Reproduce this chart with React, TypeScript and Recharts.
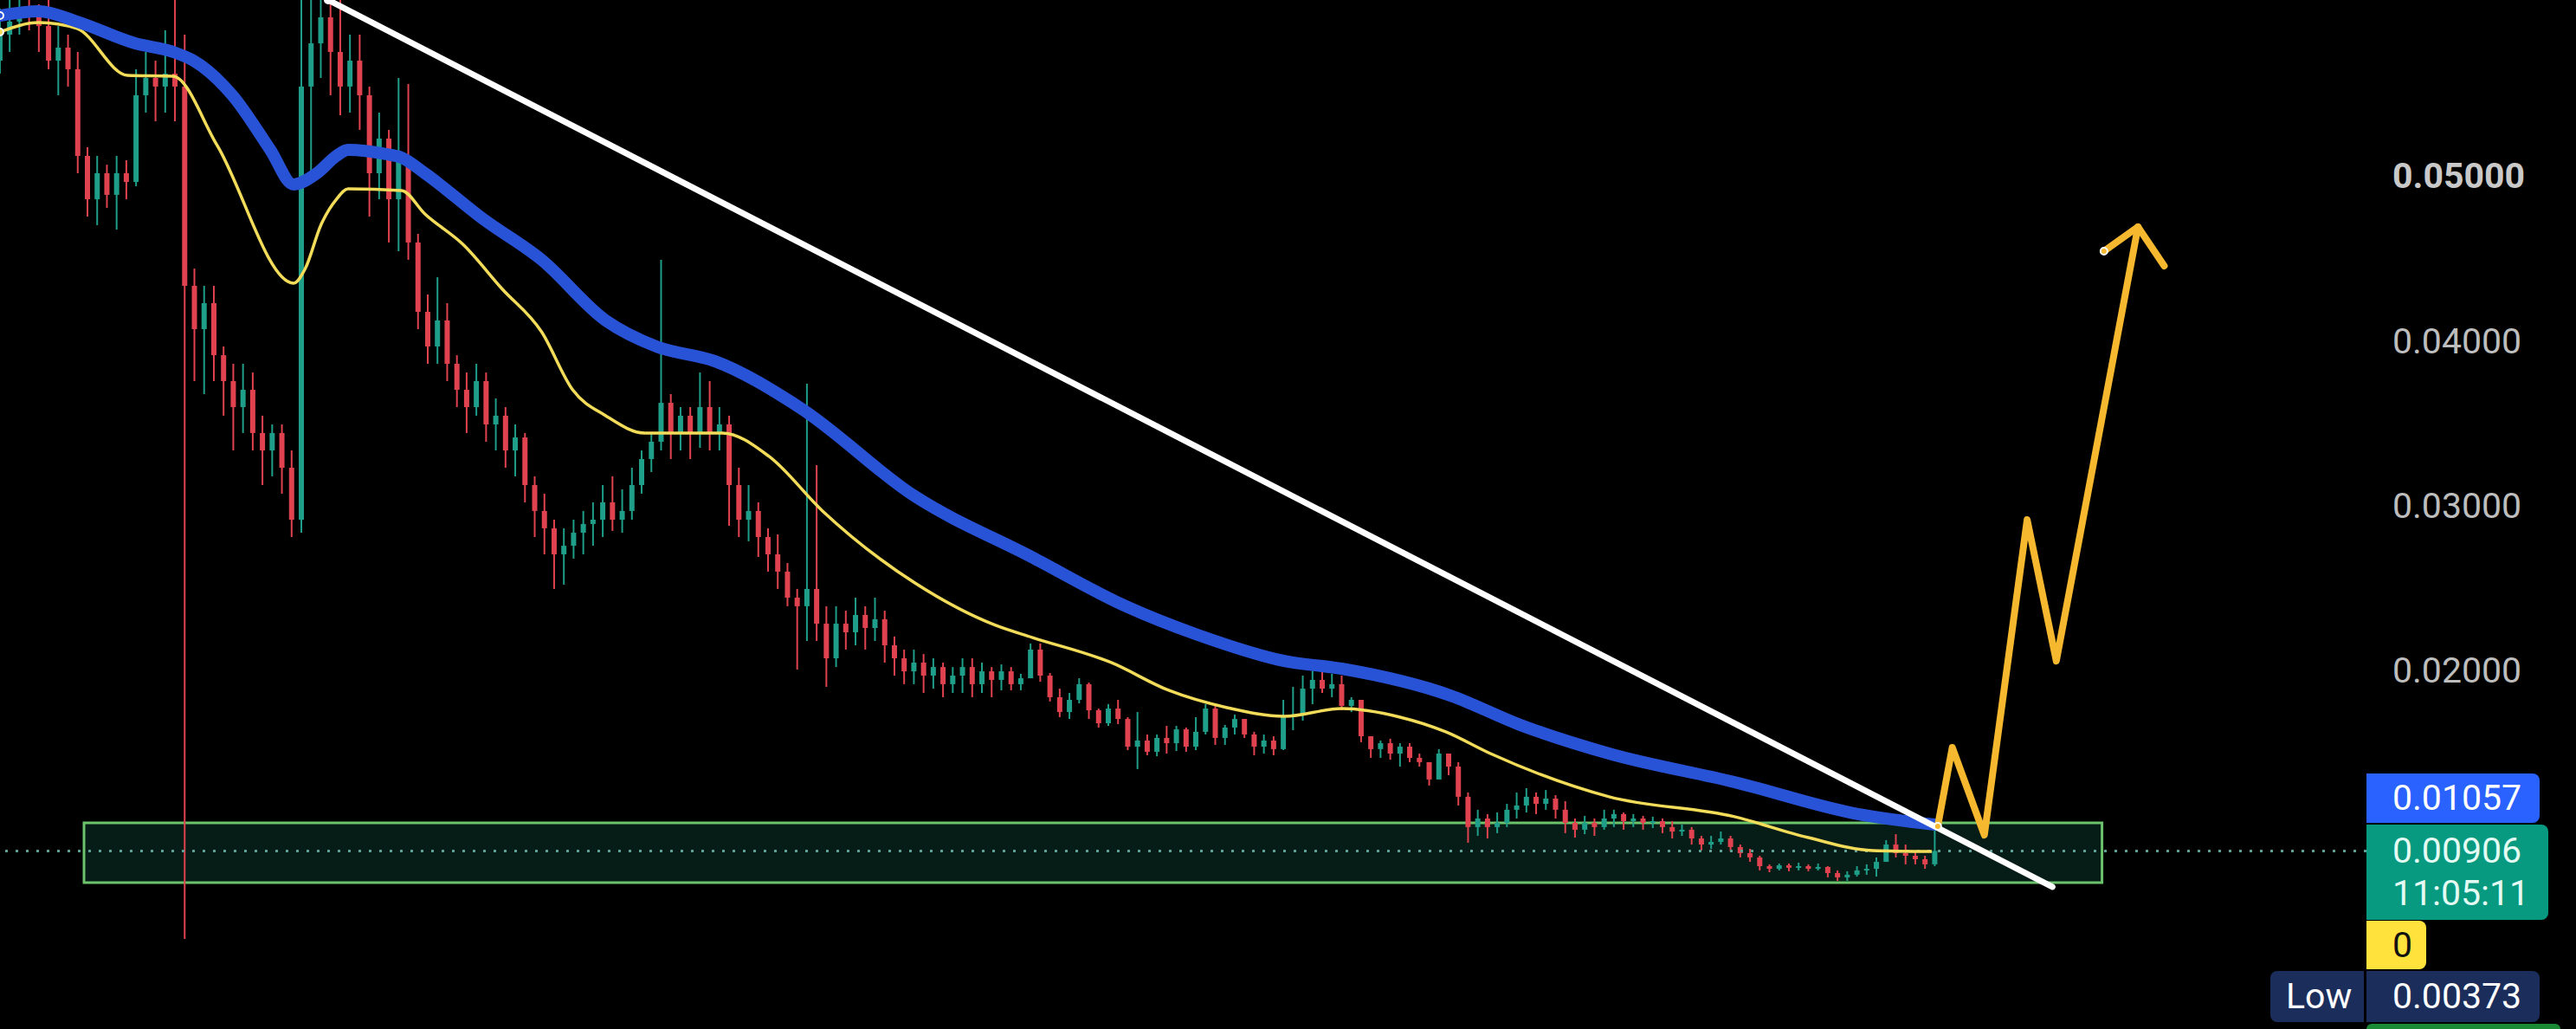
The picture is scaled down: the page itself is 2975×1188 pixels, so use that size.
import React from "react";
import {
  Bar,
  ComposedChart,
  Line,
  ReferenceArea,
  ReferenceLine,
  XAxis,
  YAxis,
} from "recharts";

// Canvas / axis geometry
const CHART_W = 2975;
const CHART_H = 1188;
const AXIS_W = 242;

const UP = "#1f9e89";
const DOWN = "#e0434f";
const FONT = "Roboto, Arial, sans-serif";

// Price scale (linear), and the bar-index range shown
const priceTicks = [0.02, 0.03, 0.04, 0.05];
const priceDomain: [number, number] = [-0.00174, 0.06069];
const indexDomain: [number, number] = [0, 243.4];

// Candles, one per bar index
const candleOpen = [
  0.05701, 0.05859, 0.05938, 0.0599, 0.05964, 0.05911, 0.05701, 0.0578, 0.05649, 0.05123,
  0.0486, 0.05018, 0.04887, 0.05018, 0.04965, 0.05491, 0.05596, 0.05544, 0.05622, 0.05544,
  0.04335, 0.04072, 0.0423, 0.03914, 0.03757, 0.03599, 0.03704, 0.03442, 0.03336, 0.03442,
  0.03231, 0.02916, 0.05544, 0.05806, 0.05964, 0.05754, 0.05544, 0.05701, 0.05491, 0.05018,
  0.05228, 0.0486, 0.05123, 0.04598, 0.04177, 0.03967, 0.04125, 0.03862, 0.03704, 0.03599,
  0.03757, 0.03494, 0.03547, 0.03336, 0.03415, 0.03126, 0.02969, 0.02864, 0.02706, 0.02758,
  0.02837, 0.0289, 0.02916, 0.03021, 0.02916, 0.02969, 0.03126, 0.03284, 0.03389, 0.03625,
  0.03442, 0.03547, 0.03442, 0.03599, 0.03442, 0.03494, 0.03126, 0.02916, 0.02969, 0.02811,
  0.02706, 0.02601, 0.02443, 0.02391, 0.02496, 0.02285, 0.02075, 0.02285, 0.02233, 0.02338,
  0.02259, 0.02312, 0.02154, 0.02075, 0.01996, 0.02049, 0.0197, 0.02022, 0.01918, 0.0197,
  0.02022, 0.01918, 0.01996, 0.01944, 0.01996, 0.01918, 0.01954, 0.02128, 0.0197, 0.01839,
  0.01749, 0.01823, 0.01918, 0.0176, 0.01681, 0.0177, 0.01707, 0.01539, 0.01576, 0.01508,
  0.01592, 0.0156, 0.01644, 0.01539, 0.01629, 0.0177, 0.01592, 0.01655, 0.01707, 0.01613,
  0.01539, 0.01576, 0.01524, 0.01718, 0.01734, 0.01891, 0.01944, 0.01891, 0.01918, 0.01786,
  0.01823, 0.01602, 0.01524, 0.0156, 0.01497, 0.01539, 0.01471, 0.01445, 0.0134, 0.01497,
  0.01418, 0.01235, 0.01051, 0.01103, 0.01051, 0.01077, 0.01156, 0.01182, 0.01235, 0.01192,
  0.01224, 0.01156, 0.01077, 0.01035, 0.01077, 0.01051, 0.01103, 0.0113, 0.01087, 0.01103,
  0.01077, 0.01087, 0.01051, 0.01024, 0.01035, 0.00982, 0.00945, 0.00961, 0.00982, 0.0093,
  0.00893, 0.00867, 0.00814, 0.00798, 0.00819, 0.00804, 0.00814, 0.00798, 0.00809, 0.00772,
  0.00746, 0.00762, 0.00788, 0.00798, 0.0084, 0.00945, 0.00893, 0.00877, 0.00856, 0.00825,
];

const candleHigh = [
  0.06016, 0.06069, 0.06069, 0.06069, 0.06043, 0.06069, 0.05911, 0.05859, 0.05754, 0.05176,
  0.05123, 0.0507, 0.05123, 0.05097, 0.05649, 0.05754, 0.05701, 0.05885, 0.06069, 0.05859,
  0.0444, 0.04335, 0.04335, 0.03967, 0.03862, 0.03862, 0.03809, 0.03547, 0.03494, 0.03494,
  0.03336, 0.06069, 0.06069, 0.06069, 0.06069, 0.06069, 0.05859, 0.05859, 0.05544, 0.05386,
  0.05281, 0.05596, 0.05559, 0.0465, 0.04282, 0.04387, 0.0423, 0.03914, 0.03809, 0.03862,
  0.03809, 0.03652, 0.03599, 0.03494, 0.03442, 0.03179, 0.03074, 0.02916, 0.02864, 0.02916,
  0.02969, 0.03021, 0.03126, 0.03179, 0.031, 0.03231, 0.03336, 0.03442, 0.04493, 0.03678,
  0.03599, 0.03599, 0.03809, 0.03757, 0.03599, 0.03547, 0.03231, 0.03126, 0.03021, 0.02864,
  0.02827, 0.02653, 0.02496, 0.03741, 0.03247, 0.02391, 0.02391, 0.02364, 0.02443, 0.02391,
  0.02443, 0.02364, 0.02207, 0.02128, 0.02128, 0.02101, 0.02075, 0.02049, 0.02022, 0.02075,
  0.02075, 0.02049, 0.02022, 0.02038, 0.02022, 0.01981, 0.02165, 0.02165, 0.01986, 0.01891,
  0.01865, 0.01954, 0.01928, 0.0177, 0.01797, 0.01823, 0.01718, 0.01749, 0.01613, 0.01613,
  0.01665, 0.01665, 0.01655, 0.01718, 0.01797, 0.01797, 0.01671, 0.01734, 0.01707, 0.01629,
  0.01613, 0.01602, 0.01823, 0.01902, 0.0197, 0.02012, 0.02012, 0.01981, 0.0197, 0.01839,
  0.01823, 0.01602, 0.01576, 0.01587, 0.0156, 0.0156, 0.01497, 0.01445, 0.01524, 0.01497,
  0.01445, 0.01261, 0.01156, 0.0113, 0.0114, 0.01192, 0.01261, 0.01287, 0.01261, 0.01276,
  0.01245, 0.01208, 0.01103, 0.01119, 0.01103, 0.01156, 0.01156, 0.0114, 0.0113, 0.01119,
  0.01114, 0.01103, 0.01087, 0.01066, 0.01051, 0.00998, 0.00998, 0.01024, 0.00998, 0.00945,
  0.00919, 0.00877, 0.00825, 0.0083, 0.0083, 0.00835, 0.00825, 0.0083, 0.00814, 0.00788,
  0.00783, 0.00814, 0.00825, 0.00867, 0.00972, 0.01008, 0.00945, 0.00909, 0.00877, 0.01035,
];

const candleLow = [
  0.05622, 0.05754, 0.05859, 0.05885, 0.05754, 0.05649, 0.05491, 0.05544, 0.05018, 0.04755,
  0.04703, 0.04808, 0.04676, 0.0486, 0.04939, 0.05386, 0.05333, 0.05386, 0.05333, 0.00373,
  0.03757, 0.03678, 0.03757, 0.03547, 0.03336, 0.03442, 0.03336, 0.03126, 0.03179, 0.03074,
  0.02811, 0.02837, 0.05018, 0.05596, 0.05491, 0.0537, 0.05386, 0.05281, 0.04755, 0.0486,
  0.04598, 0.04545, 0.04493, 0.04072, 0.03862, 0.03862, 0.03757, 0.03599, 0.03442, 0.03547,
  0.03389, 0.03336, 0.03231, 0.03179, 0.03021, 0.02811, 0.02706, 0.02496, 0.02522, 0.0268,
  0.02706, 0.02758, 0.02811, 0.02848, 0.02837, 0.02916, 0.03074, 0.03205, 0.03336, 0.03284,
  0.03336, 0.03284, 0.03352, 0.03336, 0.03336, 0.02879, 0.02811, 0.02785, 0.0269, 0.02601,
  0.02496, 0.02391, 0.02007, 0.0218, 0.0218, 0.01902, 0.02022, 0.02128, 0.02154, 0.02128,
  0.0218, 0.02049, 0.0197, 0.01918, 0.01918, 0.01865, 0.01891, 0.01839, 0.01865, 0.01865,
  0.01839, 0.01865, 0.01839, 0.01881, 0.01881, 0.01881, 0.01954, 0.01933, 0.01813, 0.01718,
  0.01707, 0.01802, 0.01707, 0.01655, 0.01665, 0.01676, 0.01518, 0.01403, 0.01487, 0.01481,
  0.01497, 0.01513, 0.01508, 0.01518, 0.01613, 0.0155, 0.0155, 0.01613, 0.01592, 0.01487,
  0.01497, 0.01487, 0.01518, 0.01639, 0.01697, 0.01797, 0.01865, 0.01839, 0.0176, 0.01749,
  0.01566, 0.01471, 0.01471, 0.0146, 0.01418, 0.01445, 0.01418, 0.01303, 0.0134, 0.01366,
  0.01182, 0.00956, 0.00998, 0.00982, 0.01014, 0.01051, 0.01103, 0.0114, 0.0113, 0.01156,
  0.01103, 0.01014, 0.00987, 0.01008, 0.00998, 0.01035, 0.01051, 0.01035, 0.01051, 0.01035,
  0.01045, 0.01014, 0.00982, 0.00998, 0.00945, 0.00909, 0.00919, 0.00945, 0.00903, 0.00867,
  0.0084, 0.00788, 0.00777, 0.00788, 0.00783, 0.00788, 0.00783, 0.00788, 0.00746, 0.00725,
  0.00725, 0.00751, 0.00762, 0.00751, 0.0084, 0.00867, 0.00825, 0.00825, 0.00798, 0.00814,
];

const candleClose = [
  0.05859, 0.05938, 0.0599, 0.05964, 0.05911, 0.05701, 0.0578, 0.05649, 0.05123, 0.0486,
  0.05018, 0.04887, 0.05018, 0.04965, 0.05491, 0.05596, 0.05544, 0.05622, 0.05544, 0.04335,
  0.04072, 0.0423, 0.03914, 0.03757, 0.03599, 0.03704, 0.03442, 0.03336, 0.03442, 0.03231,
  0.02916, 0.05544, 0.05806, 0.05964, 0.05754, 0.05544, 0.05701, 0.05491, 0.05018, 0.05228,
  0.0486, 0.05123, 0.04598, 0.04177, 0.03967, 0.04125, 0.03862, 0.03704, 0.03599, 0.03757,
  0.03494, 0.03547, 0.03336, 0.03415, 0.03126, 0.02969, 0.02864, 0.02706, 0.02758, 0.02837,
  0.0289, 0.02916, 0.03021, 0.02916, 0.02969, 0.03126, 0.03284, 0.03389, 0.03625, 0.03442,
  0.03547, 0.03442, 0.03599, 0.03442, 0.03494, 0.03126, 0.02916, 0.02969, 0.02811, 0.02706,
  0.02601, 0.02443, 0.02391, 0.02496, 0.02285, 0.02075, 0.02285, 0.02233, 0.02338, 0.02259,
  0.02312, 0.02154, 0.02075, 0.01996, 0.02049, 0.0197, 0.02022, 0.01918, 0.0197, 0.02022,
  0.01918, 0.01996, 0.01944, 0.01996, 0.01918, 0.01954, 0.02128, 0.0197, 0.01839, 0.01749,
  0.01823, 0.01918, 0.0176, 0.01681, 0.0177, 0.01707, 0.01539, 0.01576, 0.01508, 0.01592,
  0.0156, 0.01644, 0.01539, 0.01629, 0.0177, 0.01592, 0.01655, 0.01707, 0.01613, 0.01539,
  0.01576, 0.01524, 0.01718, 0.01734, 0.01891, 0.01944, 0.01891, 0.01918, 0.01786, 0.01823,
  0.01602, 0.01524, 0.0156, 0.01497, 0.01539, 0.01471, 0.01445, 0.0134, 0.01497, 0.01418,
  0.01235, 0.01051, 0.01103, 0.01051, 0.01077, 0.01156, 0.01182, 0.01235, 0.01192, 0.01224,
  0.01156, 0.01077, 0.01035, 0.01077, 0.01051, 0.01103, 0.0113, 0.01087, 0.01103, 0.01077,
  0.01087, 0.01051, 0.01024, 0.01035, 0.00982, 0.00945, 0.00961, 0.00982, 0.0093, 0.00893,
  0.00867, 0.00814, 0.00798, 0.00819, 0.00804, 0.00814, 0.00798, 0.00809, 0.00772, 0.00746,
  0.00762, 0.00788, 0.00798, 0.0084, 0.00945, 0.00893, 0.00877, 0.00856, 0.00825, 0.00906,
];

// Yellow (fast) moving average, sampled at bar indexes
const fastMaAt = [
  0, 4, 7.9, 13.1, 17.8, 22.3, 30.2, 31.4, 33, 34.6, 35.8, 41.3, 43.7, 47.7, 51.6, 55.7,
  58.9, 62.3, 66.3, 74.3, 79.1, 84.6, 94.1, 102.4, 106.2, 114.3, 120.2, 126.2, 132.1, 138,
  144, 148.7, 153.3, 165.5, 178.4, 186, 192.6, 198.7,
];
const fastMaValue = [
  0.05875, 0.05932, 0.05896, 0.05612, 0.05607, 0.05191, 0.04351, 0.0444, 0.04703, 0.0486,
  0.04923, 0.04913, 0.04771, 0.04582, 0.04319, 0.04056, 0.03704, 0.03547, 0.03442, 0.03442,
  0.033, 0.02969, 0.02532, 0.02275, 0.02201, 0.02049, 0.01881, 0.01776, 0.01723, 0.0177,
  0.01718, 0.01629, 0.01497, 0.01235, 0.01114, 0.00987, 0.00909, 0.00903,
];

// Blue (slow) moving average
const slowMaAt = [
  0, 4, 7.9, 13.9, 17.8, 19.9, 23.9, 27.8, 30.2, 32.6, 34.6, 35.8, 39.7, 41.3, 43.7, 49.7,
  55.7, 62.3, 67.5, 73.5, 82.2, 94.1, 106.1, 115.8, 123.2, 132.1, 138, 149.2, 156.4, 165.5,
  178.4, 191.1, 199,
];
const slowMaValue = [
  0.05974, 0.06001, 0.05938, 0.05806, 0.05754, 0.05701, 0.05491, 0.0516, 0.0495, 0.05018,
  0.05123, 0.0516, 0.05134, 0.05113, 0.05018, 0.0474, 0.04493, 0.04125, 0.03967, 0.03878,
  0.03599, 0.03058, 0.0269, 0.02391, 0.02217, 0.02059, 0.02012, 0.01849, 0.0167, 0.01497,
  0.01324, 0.0113, 0.01066,
];

// Hand-drawn annotations
const trendAt = [33.75, 211.1];
const trendValue = [0.06069, 0.00688];
const projectionAt = [199.3, 200.8, 204.1, 208.5, 211.5, 219.9];
const projectionValue = [0.01056, 0.01534, 0.01003, 0.02916, 0.02059, 0.04692];
const arrowHeadAt = [216.4, 219.9, 222.6];
const arrowHeadValue = [0.04545, 0.04692, 0.04456];
const zoneAt = [8.64, 216.2];
const zoneValue = [0.00714, 0.01077];
const lastPrice = 0.00906;

const candles = candleOpen.map((o, i) => ({
  i,
  o,
  h: candleHigh[i],
  l: candleLow[i],
  c: candleClose[i],
  range: [candleLow[i], candleHigh[i]],
}));

const toSeries = (at: number[], values: number[]) =>
  at.map((i, k) => ({ i, v: values[k] }));

const fastMa = toSeries(fastMaAt, fastMaValue);
const slowMa = toSeries(slowMaAt, slowMaValue);
const trend = toSeries(trendAt, trendValue);
const projection = toSeries(projectionAt, projectionValue);
const arrowHead = toSeries(arrowHeadAt, arrowHeadValue);

/** Candle drawn inside the [low, high] bar rectangle. */
function Candle(props: any) {
  const { x, y, width, height, payload } = props;
  if (x == null || y == null || !payload) return null;
  const { o, h, l, c } = payload;
  const yTop = Math.min(y, y + height);
  const yBot = Math.max(y, y + height);
  const span = h - l || 1;
  const yOf = (v: number) => yBot - ((v - l) / span) * (yBot - yTop);
  const cx = x + width / 2;
  const color = c >= o ? UP : DOWN;
  const bodyTop = yOf(Math.max(o, c));
  const bodyBot = yOf(Math.min(o, c));
  return (
    <g>
      <line x1={cx} x2={cx} y1={yTop} y2={yBot} stroke={color} strokeWidth={2} />
      <rect
        x={cx - 3}
        y={bodyTop}
        width={6}
        height={Math.max(2, bodyBot - bodyTop)}
        fill={color}
      />
    </g>
  );
}

function PriceTick(props: any) {
  const { x, y, payload } = props;
  const bold = payload.value === 0.05;
  return (
    <text
      x={x + 30}
      y={y}
      dominantBaseline="central"
      fill={bold ? "#c9c9c9" : "#bdbdbd"}
      fontSize={41}
      fontWeight={bold ? 700 : 400}
      fontFamily={FONT}
    >
      {Number(payload.value).toFixed(5)}
    </text>
  );
}

const badgeText: React.CSSProperties = {
  position: "absolute",
  fontFamily: FONT,
  fontSize: 41,
  lineHeight: 1,
  boxSizing: "border-box",
  paddingLeft: 30,
  display: "flex",
  alignItems: "center",
};

function Badges() {
  return (
    <>
      <div
        style={{
          ...badgeText,
          left: 2733,
          top: 893,
          width: 200,
          height: 57,
          background: "#2962ff",
          color: "#ffffff",
          borderRadius: "0 8px 8px 0",
        }}
      >
        0.01057
      </div>
      <div
        style={{
          ...badgeText,
          left: 2733,
          top: 952,
          width: 210,
          height: 110,
          background: "#089981",
          color: "#e4fbf3",
          borderRadius: "0 8px 8px 0",
          flexDirection: "column",
          alignItems: "flex-start",
          justifyContent: "center",
          gap: 8,
        }}
      >
        <span>0.00906</span>
        <span>11:05:11</span>
      </div>
      <div
        style={{
          ...badgeText,
          left: 2733,
          top: 1063,
          width: 69,
          height: 56,
          background: "#ffe23b",
          color: "#111111",
          borderRadius: "0 8px 8px 0",
        }}
      >
        0
      </div>
      <div
        style={{
          ...badgeText,
          left: 2622,
          top: 1121,
          width: 108,
          height: 59,
          paddingLeft: 18,
          background: "#1b2d5a",
          color: "#ffffff",
          borderRadius: "8px 0 0 8px",
        }}
      >
        Low
      </div>
      <div
        style={{
          ...badgeText,
          left: 2733,
          top: 1121,
          width: 200,
          height: 59,
          background: "#1b2d5a",
          color: "#ffffff",
          borderRadius: "0 8px 8px 0",
        }}
      >
        0.00373
      </div>
      <div
        style={{
          position: "absolute",
          left: 2733,
          top: 1182,
          width: 224,
          height: 10,
          background: "#1a8a35",
          borderRadius: "6px 6px 0 0",
        }}
      />
    </>
  );
}

export default function App() {
  return (
    <div
      style={{
        position: "absolute",
        left: 0,
        top: 0,
        width: CHART_W,
        height: CHART_H,
        background: "#000000",
        overflow: "hidden",
      }}
    >
      <ComposedChart
        width={CHART_W}
        height={CHART_H}
        data={candles}
        margin={{ top: 0, right: 0, bottom: 0, left: 0 }}
      >
        <XAxis
          type="number"
          dataKey="i"
          domain={indexDomain}
          allowDataOverflow
          hide
        />
        <YAxis
          orientation="right"
          width={AXIS_W}
          domain={priceDomain}
          allowDataOverflow
          ticks={priceTicks}
          tick={<PriceTick />}
          tickSize={0}
          tickMargin={0}
          axisLine={false}
          tickLine={false}
        />
        <ReferenceArea
          x1={zoneAt[0]}
          x2={zoneAt[1]}
          y1={zoneValue[0]}
          y2={zoneValue[1]}
          fill="#0d4033"
          fillOpacity={0.45}
          stroke="#6cc36c"
          strokeWidth={3}
          strokeOpacity={1}
        />
        <ReferenceLine
          y={lastPrice}
          stroke="#5e9f93"
          strokeWidth={3}
          strokeDasharray="3 9"
        />
        <Bar
          dataKey="range"
          barSize={6}
          shape={<Candle />}
          isAnimationActive={false}
        />
        <Line
          data={fastMa}
          dataKey="v"
          type="monotone"
          stroke="#f2dc5a"
          strokeWidth={3.5}
          dot={false}
          isAnimationActive={false}
        />
        <Line
          data={slowMa}
          dataKey="v"
          type="monotone"
          stroke="#2953d6"
          strokeWidth={14}
          strokeLinecap="round"
          dot={false}
          isAnimationActive={false}
        />
        <Line
          data={trend}
          dataKey="v"
          type="linear"
          stroke="#ffffff"
          strokeWidth={7}
          strokeLinecap="round"
          dot={false}
          isAnimationActive={false}
        />
        <Line
          data={projection}
          dataKey="v"
          type="linear"
          stroke="#f6b82f"
          strokeWidth={8}
          strokeLinecap="round"
          strokeLinejoin="round"
          dot={false}
          isAnimationActive={false}
        />
        <Line
          data={arrowHead}
          dataKey="v"
          type="linear"
          stroke="#f6b82f"
          strokeWidth={8}
          strokeLinecap="round"
          strokeLinejoin="round"
          dot={false}
          isAnimationActive={false}
        />
      </ComposedChart>
      <Badges />
    </div>
  );
}
